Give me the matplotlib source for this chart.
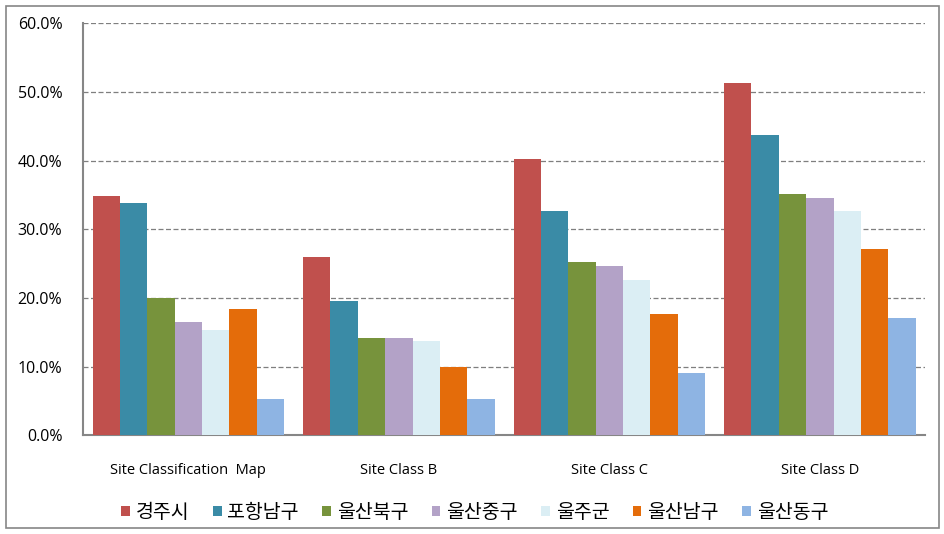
import matplotlib
matplotlib.use('Agg')
import matplotlib.pyplot as plt
import numpy as np
from matplotlib.patches import Rectangle

categories = ['Site Classification  Map', 'Site Class B', 'Site Class C', 'Site Class D']
regions = ['경주시', '포항남구', '울산북구', '울산중구', '울주군', '울산남구', '울산동구']
values = [
    [34.9, 26.0, 40.3, 51.4],   # 경주시
    [33.9, 19.6, 32.7, 43.7],   # 포항남구
    [20.0, 14.1, 25.3, 35.2],   # 울산북구
    [16.5, 14.1, 24.6, 34.6],   # 울산중구
    [15.4, 13.8, 22.6, 32.7],   # 울주군
    [18.4, 9.9, 17.7, 27.2],    # 울산남구
    [5.3, 5.3, 9.1, 17.1],      # 울산동구
]
colors = ['#C0504D', '#3A8BA6', '#77933C', '#B3A2C7', '#DBEEF4', '#E46C0A', '#8EB4E3']
yticks = [0, 10, 20, 30, 40, 50, 60]

plt.rcParams['font.family'] = ['Noto Sans CJK KR', 'DejaVu Sans']

fig = plt.figure(figsize=(9.45, 5.34), dpi=100)
ax = fig.add_axes([0.088, 0.185, 0.891, 0.771])

x = np.arange(len(categories))
w = 0.13
for i, (name, vals) in enumerate(zip(regions, values)):
    ax.bar(x + (i - 3) * w, vals, width=w, color=colors[i], label=name, zorder=3)

ax.set_xlim(-0.5, 3.5)
ax.set_ylim(0, 60)
ax.set_yticks(yticks)
ax.set_yticklabels([f'{t:.1f}%' for t in yticks], fontsize=11.5, family=['Open Sans', 'DejaVu Sans'])
ax.set_xticks(x)
ax.set_xticklabels(categories, fontsize=10.5, family=['Open Sans', 'DejaVu Sans'])
ax.tick_params(axis='both', length=0)
ax.tick_params(axis='y', pad=15)
ax.tick_params(axis='x', pad=20)
ax.yaxis.grid(True, linestyle=(0, (4, 2)), color='#7f7f7f', linewidth=0.9, zorder=0)
for s in ['top', 'right']:
    ax.spines[s].set_visible(False)
for s in ['left', 'bottom']:
    ax.spines[s].set_color('#868686')
    ax.spines[s].set_linewidth(1.5)

ax.legend(loc='upper center', bbox_to_anchor=(0.465, -0.12), ncol=7, frameon=False,
          fontsize=14, handlelength=0.45, handleheight=0.45, handletextpad=0.3,
          columnspacing=1.2)

fig.patches.append(Rectangle((0.006, 0.012), 0.988, 0.976, transform=fig.transFigure,
                             fill=False, edgecolor='#868686', linewidth=1.2))

fig.savefig('out.png', dpi=100)
